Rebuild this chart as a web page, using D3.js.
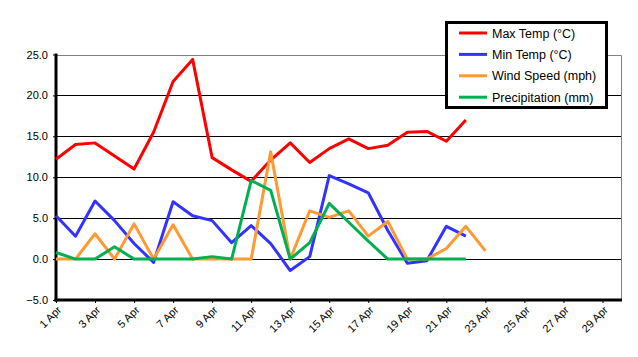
<!DOCTYPE html>
<html><head><meta charset="utf-8">
<script src="https://cdn.jsdelivr.net/npm/d3@7"></script>
<style>body{margin:0;background:#fff}svg{display:block;font-family:Arial,"Liberation Sans",sans-serif}</style>
</head><body><svg id="c" width="638" height="357"></svg>
<script>
const days = d3.range(1, 31);
const tickDays = [1,3,5,7,9,11,13,15,17,19,21,23,25,27,29];
const yTicks = [-5,0,5,10,15,20,25];
const seriesNames = ["Max Temp (°C)","Min Temp (°C)","Wind Speed (mph)","Precipitation (mm)"];
const seriesColors = ["#ff0000","#3333ff","#ff9933","#00b050"];
const maxTemp = [12.2,14.0,14.2,12.6,11.0,15.5,21.7,24.4,12.4,10.9,9.5,12.1,14.2,11.8,13.5,14.7,13.5,13.9,15.5,15.6,14.4,17.0];
const minTemp = [5.3,2.8,7.1,4.7,1.9,-0.4,7.0,5.3,4.7,2.0,4.1,1.9,-1.4,0.3,10.2,9.2,8.1,3.5,-0.5,-0.2,4.0,2.8];
const wind = [0,0,3.1,0,4.3,0,4.2,0,0,0,0,13.1,0,5.9,5.1,5.9,2.8,4.6,0,0,1.3,4.0,1.0];
const precip = [0.8,0,0,1.5,0,0,0,0,0.3,0,9.6,8.4,0,2.0,6.8,4.5,2.2,0,0,0,0,0];
const series = [maxTemp, minTemp, wind, precip];

const svg = d3.select("#c");
const x = d3.scaleLinear().domain([1,30]).range([56,622]);
const y = d3.scaleLinear().domain([-5,25]).range([300,54.5]);

// gridlines
svg.append("g").selectAll("line").data(yTicks.filter(v=>v>-5)).join("line")
  .attr("x1",56).attr("x2",621.5).attr("y1",d=>Math.round(y(d))+0.5).attr("y2",d=>Math.round(y(d))+0.5)
  .attr("stroke",d=>d===25?"#808080":"#000").attr("stroke-width",1);
// right border
svg.append("line").attr("x1",621.5).attr("x2",621.5).attr("y1",Math.round(y(25))+0.5).attr("y2",300)
  .attr("stroke","#808080");

// axes
const yAxis = d3.axisLeft(y).tickValues(yTicks).tickFormat(d3.format(".1f")).tickSize(3).tickPadding(5);
const gy = svg.append("g").attr("transform","translate(56,0)").call(yAxis);
gy.select(".domain").remove();
gy.selectAll("text").attr("font-size",11).attr("fill","#000").attr("font-family","Arial, 'Liberation Sans'");
const xAxis = d3.axisBottom(x).tickValues(tickDays).tickFormat(d=>d+" Apr").tickSize(3).tickPadding(3);
const gx = svg.append("g").attr("transform","translate(0,300)").call(xAxis);
gx.select(".domain").remove();
gx.selectAll("text").attr("font-size",11).attr("fill","#000").attr("font-family","Arial, 'Liberation Sans'")
  .attr("text-anchor","end").attr("dy",0)
  .attr("transform","translate(0,5) rotate(-45)").attr("y",8).attr("x",0);

svg.append("line").attr("x1",56).attr("x2",56).attr("y1",y(25)-1).attr("y2",301.5).attr("stroke","#000").attr("stroke-width",3);
svg.append("line").attr("x1",54.5).attr("x2",622).attr("y1",300).attr("y2",300).attr("stroke","#000").attr("stroke-width",3);

// lines
const line = d3.line().x((d,i)=>x(i+1)).y(d=>y(d));
series.forEach((s,k)=>{
  svg.append("path").attr("d",line(s)).attr("fill","none").attr("stroke",seriesColors[k])
    .attr("stroke-width",3).attr("stroke-linejoin","round");
});

// legend
const lg = svg.append("g");
lg.append("rect").attr("x",446.5).attr("y",22.5).attr("width",160).attr("height",85)
  .attr("fill","#fff").attr("stroke","#000").attr("stroke-width",3);
seriesNames.forEach((n,k)=>{
  const yy = 33 + k*21.4;
  lg.append("line").attr("x1",459).attr("x2",487).attr("y1",yy).attr("y2",yy)
    .attr("stroke",seriesColors[k]).attr("stroke-width",3);
  lg.append("text").attr("x",492).attr("y",yy+4.5).attr("font-size",12.5).attr("fill","#000").text(n);
});
</script></body></html>
